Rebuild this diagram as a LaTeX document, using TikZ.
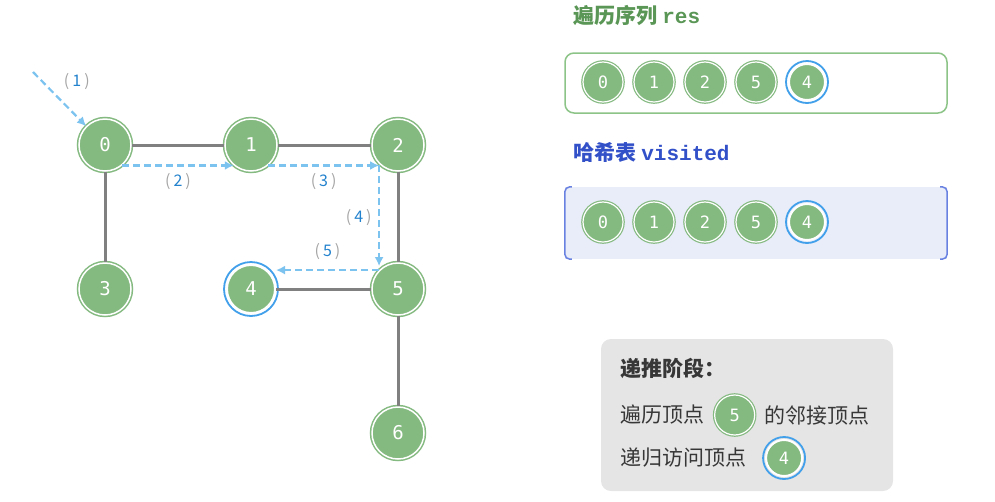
\documentclass[tikz,border=0pt]{standalone}
\usepackage{fontspec}
\setmainfont{Noto Sans CJK SC}
\setmonofont{DejaVu Sans Mono}
\newfontfamily\codebold{Liberation Mono}
\usepackage{tikz}
\usetikzlibrary{arrows.meta, positioning}
\definecolor{NodeGreen}{RGB}{132,185,128}
\definecolor{RingBlue}{RGB}{66,160,235}
\definecolor{StepBlue}{RGB}{125,195,240}
\definecolor{NumBlue}{RGB}{35,130,205}
\definecolor{ParenGray}{RGB}{165,165,165}
\definecolor{EdgeGray}{RGB}{128,128,128}
\definecolor{ResGreen}{RGB}{90,150,85}
\definecolor{ResBorder}{RGB}{140,195,135}
\definecolor{HashBlue}{RGB}{50,80,200}
\definecolor{HashBg}{RGB}{233,237,250}
\definecolor{HashBorder}{RGB}{105,130,225}
\definecolor{LegendBg}{RGB}{229,229,229}
\definecolor{LegendText}{RGB}{55,55,55}
\newcommand{\steplabel}[1]{{\color{ParenGray}(}\hspace{3pt}{\color{NumBlue}#1}\hspace{3pt}{\color{ParenGray})}}

\begin{document}
\begin{tikzpicture}[
  x=1pt, y=-1pt,
  vert/.style={circle, fill=NodeGreen, draw=NodeGreen, double=white, double distance=1.5pt,
    line width=1.5pt, inner sep=0pt, minimum size=52pt, text=white,
    font=\ttfamily\fontsize{19}{19}\selectfont},
  smallvert/.style={vert, minimum size=40pt, double distance=1.2pt, line width=1.2pt,
    font=\ttfamily\fontsize{17}{17}\selectfont},
  curvert/.style={circle, fill=NodeGreen, draw=white, line width=2pt, inner sep=0pt,
    minimum size=48pt, text=white, font=\ttfamily\fontsize{19}{19}\selectfont,
    label={[circle, draw=RingBlue, line width=1.8pt, inner sep=0pt, minimum size=54pt]center:{}}},
  smallcur/.style={circle, fill=NodeGreen, draw=white, line width=2pt, inner sep=0pt,
    minimum size=36pt, text=white, font=\ttfamily\fontsize{17}{17}\selectfont,
    label={[circle, draw=RingBlue, line width=1.8pt, inner sep=0pt, minimum size=42pt]center:{}}},
  link/.style={EdgeGray, line width=3pt},
  stepline/.style={StepBlue, line width=2.2pt, dash pattern=on 7pt off 4pt,
    -{Latex[length=9pt, width=9pt]}},
  steptext/.style={font=\fontsize{16}{16}\selectfont},
  title/.style={anchor=west, font=\bfseries\fontsize{21}{21}\selectfont},
  legtext/.style={text=LegendText, font=\fontsize{21}{21}\selectfont}
]
\useasboundingbox (0,0) rectangle (995,501);

% graph
\node[vert] (n0) at (105,145) {0};
\node[vert] (n1) at (251,145) {1};
\node[vert] (n2) at (398,145) {2};
\node[vert] (n3) at (105,289) {3};
\node[curvert] (n4) at (251,289) {4};
\node[vert] (n5) at (398,289) {5};
\node[vert] (n6) at (398,433) {6};
\draw[link] (n0) -- (n1);
\draw[link] (n1) -- (n2);
\draw[link] (n0) -- (n3);
\draw[link] (n2) -- (n5);
\draw[link] (n4) -- (n5);
\draw[link] (n5) -- (n6);

% steps
\coordinate (entry) at (33,72);
\coordinate (turn) at (n1.-50 -| n2.-135);
\draw[stepline] (entry) -- (n0.135)
  node[steptext, midway, above right, yshift=5pt] {\steplabel{1}};
\draw[stepline] (n0.-50) -- (n1.-130)
  node[steptext, midway, below=3pt] {\steplabel{2}};
\draw[stepline] (n1.-50) -- (turn)
  node[steptext, midway, below=3pt] {\steplabel{3}};
\draw[stepline, shorten >=4pt] (turn) -- (turn |- n5.135)
  node[steptext, midway, left=3pt] {\steplabel{4}};
\draw[stepline] (n5.135) -- (n5.135 -| n4.east)
  node[steptext, midway, above=6pt] {\steplabel{5}};

% res
\node[title, text=ResGreen] (restitle) at (570,16) {遍历序列 {\codebold\bfseries res}};
\node[draw=ResBorder, line width=1.5pt, rounded corners=9pt, fill=white,
      minimum width=382pt, minimum height=60pt] (res) at (756,83) {};
\foreach \v [count=\i] in {0,1,2,5}
  \node[smallvert] (r\v) at (552+51*\i,82) {\v};
\node[smallcur] (r4) at (807,82) {4};

% visited
\node[title, text=HashBlue] (hashtitle) at (570,152) {哈希表 {\codebold\bfseries visited}};
\node[fill=HashBg, minimum width=382pt, minimum height=72pt] (hash) at (756,223) {};
\draw[HashBorder, line width=1.5pt, rounded corners=5pt]
  ([xshift=7pt]hash.north west) -- (hash.north west) -- (hash.south west) -- ([xshift=7pt]hash.south west);
\draw[HashBorder, line width=1.5pt, rounded corners=5pt]
  ([xshift=-7pt]hash.north east) -- (hash.north east) -- (hash.south east) -- ([xshift=-7pt]hash.south east);
\foreach \v [count=\i] in {0,1,2,5}
  \node[smallvert] (h\v) at (552+51*\i,222) {\v};
\node[smallcur] (h4) at (807,222) {4};

% legend
\node[fill=LegendBg, rounded corners=10pt, minimum width=292pt, minimum height=152pt] (legend) at (747,415) {};
\node[legtext, anchor=west, font=\bfseries\fontsize{21}{21}\selectfont] (lgtitle) at (617,368) {递推阶段：};
\node[legtext, anchor=west] (lgvisit) at (617,415) {遍历顶点};
\node[smallvert, right=6pt of lgvisit] (lg5) {5};
\node[legtext, right=6pt of lg5] (lgadj) {的邻接顶点};
\node[legtext, anchor=west] (lgrec) at (617,458) {递归访问顶点};
\node[smallcur, right=15pt of lgrec] (lg4) {4};
\end{tikzpicture}
\end{document}
